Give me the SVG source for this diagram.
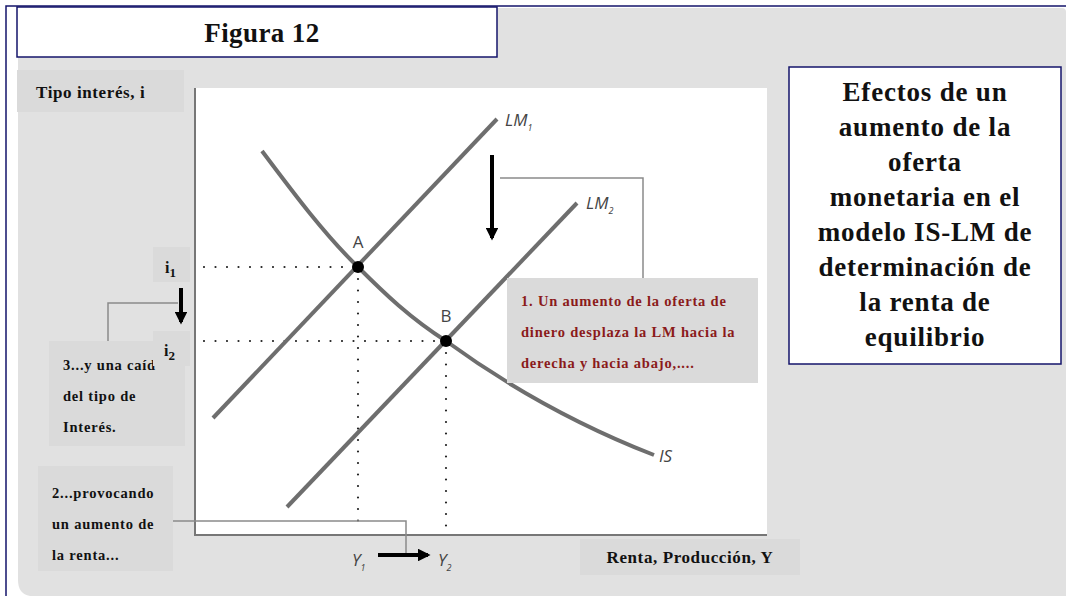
<svg xmlns="http://www.w3.org/2000/svg" width="1066" height="596" viewBox="0 0 1066 596">
<style>
.serif{font-family:"Liberation Serif","Times New Roman",serif;font-weight:bold;fill:#111}
.small{font-size:14.5px;letter-spacing:0.8px}
.lbl{font-family:"Open Sans","DejaVu Sans",sans-serif;font-style:italic;fill:#444;font-size:17px}
.pt{font-family:"Open Sans","DejaVu Sans",sans-serif;fill:#444;font-size:17px}
.box{fill:#dadada}
.navy{fill:#fff;stroke:#14146b;stroke-width:1.5}
.conn{fill:none;stroke:#8a8a8a;stroke-width:1.5}
.dots{fill:none;stroke:#222;stroke-width:2.2;stroke-linecap:round;stroke-dasharray:0 11.5}
.curve{fill:none;stroke:#6e6e6e;stroke-width:4}
</style>
<defs>
<marker id="ah" viewBox="0 0 10 10" refX="8" refY="5" markerWidth="3.2" markerHeight="3.2" orient="auto">
<path d="M0,0 L10,5 L0,10 z" fill="#000"/>
</marker>
</defs>
<rect width="1066" height="596" fill="#fff"/>
<path d="M18,8 H1062 Q1066,8 1066,12 V596 H30 Q18,594 18,580 Z" fill="#e1e1e1"/>
<path d="M6,596 V6 H1066" fill="none" stroke="#14146b" stroke-width="1.5"/>

<g id="title"><rect class="navy" x="17" y="7" width="480" height="50"/><text class="serif" x="262" y="42" font-size="27" letter-spacing="0.4" text-anchor="middle">Figura 12</text></g>

<g id="plot">
<rect x="195" y="88" width="572" height="447" fill="#fff"/>
<path d="M195,88 V535 H767" fill="none" stroke="#777" stroke-width="2"/>
</g>

<g id="ylabel"><rect class="box" x="17" y="70" width="167" height="42"/><text class="serif" x="36" y="98" font-size="17" letter-spacing="0.6">Tipo interés, i</text></g>

<g id="connectors">
<path class="dots" d="M204,267 H352"/>
<path class="dots" d="M204,341 H440"/>
<path class="dots" d="M358,279 V530"/>
<path class="dots" d="M446,353 V530"/>
<path class="conn" d="M500,178 H643 V278"/>
<path class="conn" d="M108,341 V303 H178"/>
<path class="conn" d="M173,521 H406 V556"/>
<line x1="492" y1="155" x2="492" y2="238" stroke="#000" stroke-width="4" marker-end="url(#ah)"/>
<line x1="181" y1="288" x2="181" y2="322" stroke="#000" stroke-width="4" marker-end="url(#ah)"/>
<line x1="378" y1="555" x2="428" y2="555" stroke="#000" stroke-width="4" marker-end="url(#ah)"/>
</g>

<g id="IS"><path class="curve" d="M262,151 C295,195 325,235 358,267 C385,294 410,318 446,341 C520,395 590,430 654,455"/><text class="lbl" x="659" y="462">IS</text></g>
<g id="LM1"><path class="curve" d="M213,418 L497,119"/><text class="lbl" x="505" y="126">LM<tspan font-size="9" dy="5">1</tspan></text></g>
<g id="LM2"><path class="curve" stroke="#585858" d="M287,507 L577,203"/><text class="lbl" x="586" y="209">LM<tspan font-size="9" dy="5">2</tspan></text></g>

<g id="A"><circle cx="358" cy="267" r="6" fill="#000"/><text class="pt" x="358" y="248" text-anchor="middle">A</text></g>
<g id="B"><circle cx="446" cy="341" r="6" fill="#000"/><text class="pt" x="446" y="322" text-anchor="middle">B</text></g>

<g id="Y1"><text class="lbl" x="352" y="566">Y<tspan font-size="9" dy="5">1</tspan></text></g>
<g id="Y2"><text class="lbl" x="438" y="566">Y<tspan font-size="9" dy="5">2</tspan></text></g>

<g id="box3"><rect class="box" x="49" y="341" width="136" height="105"/>
<text class="serif small"><tspan x="63" y="370">3...y una caíd</tspan><tspan x="63" y="401">del tipo de</tspan><tspan x="63" y="432">Interés.</tspan></text></g>

<g id="i1"><rect class="box" x="153" y="247" width="37" height="35"/><text class="serif" x="165" y="273" font-size="16">i<tspan font-size="13" dy="4">1</tspan></text></g>
<g id="i2"><rect class="box" x="153" y="331" width="37" height="35"/><text class="serif" x="164" y="356" font-size="16">i<tspan font-size="13" dy="4">2</tspan></text></g>

<g id="box2"><rect class="box" x="38" y="466" width="135" height="105"/>
<text class="serif small"><tspan x="52" y="498">2...provocando</tspan><tspan x="52" y="529">un aumento de</tspan><tspan x="52" y="560">la renta...</tspan></text></g>

<g id="xlabel"><rect class="box" x="580" y="539" width="220" height="36"/><text class="serif" x="690" y="563" font-size="17" letter-spacing="0.6" text-anchor="middle">Renta, Producción, Y</text></g>

<g id="box1"><rect class="box" x="507" y="278" width="251" height="105"/>
<text class="serif small" style="fill:#8b1a1a"><tspan x="521" y="306">1. Un aumento de la oferta de</tspan><tspan x="521" y="337">dinero desplaza la LM hacia la</tspan><tspan x="521" y="368">derecha y hacia abajo,....</tspan></text></g>

<g id="info"><rect class="navy" x="789" y="67" width="272" height="297"/>
<text class="serif" font-size="27" letter-spacing="0.8" text-anchor="middle"><tspan x="925" y="101">Efectos de un</tspan><tspan x="925" y="136">aumento de la</tspan><tspan x="925" y="171">oferta</tspan><tspan x="925" y="206">monetaria en el</tspan><tspan x="925" y="241">modelo IS-LM de</tspan><tspan x="925" y="276">determinación de</tspan><tspan x="925" y="311">la renta de</tspan><tspan x="925" y="346">equilibrio</tspan></text></g>
</svg>
